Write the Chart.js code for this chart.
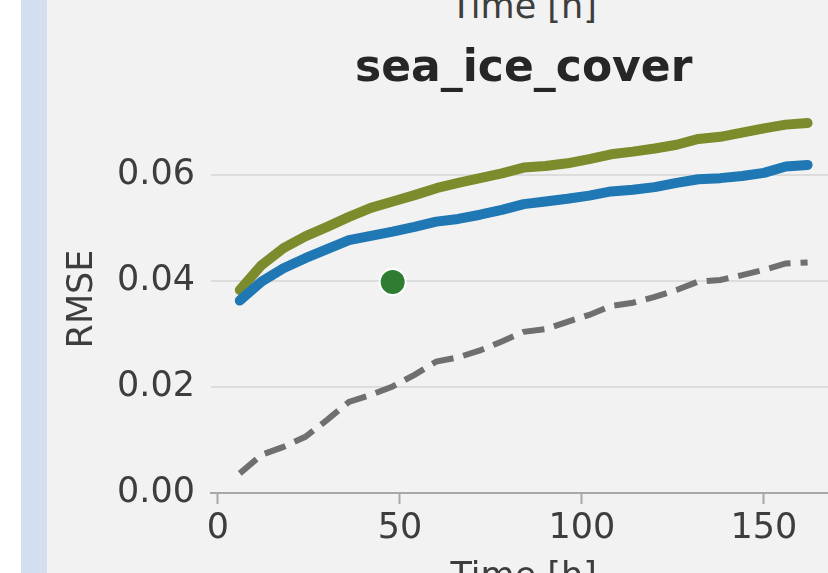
<!DOCTYPE html>
<html>
<head>
<meta charset="utf-8">
<script src="https://cdn.jsdelivr.net/npm/chart.js@4.4.1/dist/chart.umd.min.js"></script>
<style>
  html, body { margin: 0; padding: 0; width: 828px; height: 573px; overflow: hidden; background: #f2f2f2; }
  #stripWhite { position: absolute; left: 0; top: 0; width: 21px; height: 573px; background: #ffffff; }
  #stripBlue { position: absolute; left: 21px; top: 0; width: 26px; height: 573px; background: #d3dff0; }
  #prevXLabel { position: absolute; left: 373.7px; width: 300px; top: -11.4px; text-align: center;
    font: 35px/35px "DejaVu Sans", sans-serif; color: #3d3d3d; white-space: nowrap; }
  #wrap { position: absolute; left: 47px; top: 0; width: 853px; height: 640px; }
  canvas { display: block; }
</style>
</head>
<body>
<div id="stripWhite"></div>
<div id="stripBlue"></div>
<div id="prevXLabel">Time [h]</div>
<div id="wrap"><canvas id="c" width="853" height="640" style="width:853px;height:640px"></canvas></div>
<script>
// ---- data ----
const hours = [6, 12, 18, 24, 30, 36, 42, 48, 54, 60, 66, 72, 78, 84, 90, 96, 102, 108, 114, 120, 126, 132, 138, 144, 150, 156, 162];
const rmseOlive = [0.0383, 0.0430, 0.0462, 0.0484, 0.0502, 0.0521, 0.0538, 0.0550, 0.0562, 0.0575, 0.0585, 0.0594, 0.0603, 0.0614, 0.0617, 0.0622, 0.0630, 0.0639, 0.0644, 0.0650, 0.0657, 0.0668, 0.0672, 0.0680, 0.0688, 0.0695, 0.0698];
const rmseBlue = [0.0363, 0.0399, 0.0424, 0.0443, 0.0460, 0.0477, 0.0485, 0.0493, 0.0502, 0.0512, 0.0517, 0.0525, 0.0534, 0.0545, 0.0550, 0.0555, 0.0561, 0.0569, 0.0572, 0.0577, 0.0585, 0.0592, 0.0594, 0.0598, 0.0604, 0.0616, 0.0619];
const rmseBaseline = [0.0037, 0.0072, 0.0087, 0.0106, 0.0138, 0.0172, 0.0185, 0.0201, 0.0223, 0.0248, 0.0256, 0.0269, 0.0286, 0.0304, 0.0309, 0.0323, 0.0336, 0.0353, 0.0359, 0.0370, 0.0383, 0.0399, 0.0402, 0.0411, 0.0421, 0.0433, 0.0435];
const markerHours = [48];
const markerRmse = [0.0398];
const xTickValues = [0, 50, 100, 150];
const yTickValues = [0.00, 0.02, 0.04, 0.06];
const titleText = 'sea_ice_cover';
const xTitle = 'Time [h]';
const yTitle = 'RMSE';

const toPts = (xs, ys) => xs.map((x, i) => ({ x: x, y: ys[i] }));
const FONT = '"DejaVu Sans", sans-serif';

new Chart(document.getElementById('c'), {
  type: 'line',
  data: {
    datasets: [
      { type: 'scatter', data: toPts(markerHours, markerRmse), order: 0,
        pointRadius: 13, pointBackgroundColor: '#2e7d32', pointBorderColor: '#ffffff', pointBorderWidth: 2, showLine: false },
      { data: toPts(hours, rmseBlue), order: 1, borderColor: '#1f77b4', borderWidth: 10,
        borderCapStyle: 'round', borderJoinStyle: 'round', pointRadius: 0, tension: 0, fill: false },
      { data: toPts(hours, rmseOlive), order: 2, borderColor: '#7c8b2b', borderWidth: 10,
        borderCapStyle: 'round', borderJoinStyle: 'round', pointRadius: 0, tension: 0, fill: false },
      { data: toPts(hours, rmseBaseline), order: 3, borderColor: '#6f6f6f', borderWidth: 6, borderDash: [22, 10],
        borderCapStyle: 'butt', borderJoinStyle: 'miter', pointRadius: 0, tension: 0, fill: false }
    ]
  },
  options: {
    responsive: false,
    animation: false,
    devicePixelRatio: 1,
    layout: { padding: { left: 0, right: 64, top: 0, bottom: 0 } },
    plugins: {
      legend: { display: false },
      tooltip: { enabled: false },
      title: {
        display: true, text: titleText, fullSize: false, align: 'center', color: '#262626',
        font: { family: FONT, size: 44, weight: 'bold', lineHeight: 1.2 },
        padding: { top: 43.4, bottom: 8.8 }
      }
    },
    scales: {
      x: {
        type: 'linear', min: -1.8, max: 169.8,
        afterFit: s => { s.height = 147; },
        afterBuildTicks: s => { s.ticks = xTickValues.map(v => ({ value: v })); },
        ticks: { color: '#3d3d3d', font: { family: FONT, size: 35, lineHeight: 1.2 }, padding: 4.4,
          maxRotation: 0, autoSkip: false, callback: v => String(v) },
        grid: { drawOnChartArea: false, drawTicks: true, tickLength: 11, tickColor: '#a8a8a8', tickWidth: 2 },
        border: { display: true, color: '#a8a8a8', width: 2 },
        title: { display: true, text: xTitle, color: '#3d3d3d',
          font: { family: FONT, size: 35, lineHeight: 1.2 }, padding: { top: 0, bottom: 40.6 } }
      },
      y: {
        type: 'linear', min: 0, max: 0.0732,
        afterFit: s => { s.width = 164.4; },
        afterBuildTicks: s => { s.ticks = yTickValues.map(v => ({ value: v })); },
        ticks: { color: '#3d3d3d', font: { family: FONT, size: 35, lineHeight: 1.2 }, padding: 16.4,
          callback: v => Number(v).toFixed(2) },
        grid: { color: '#dcdcdc', lineWidth: 2, drawTicks: false },
        border: { display: false },
        title: { display: true, text: yTitle, color: '#3d3d3d',
          font: { family: FONT, size: 35, lineHeight: 1.2 }, padding: { top: 14.5, bottom: 0 } }
      }
    }
  }
});
</script>
</body>
</html>
